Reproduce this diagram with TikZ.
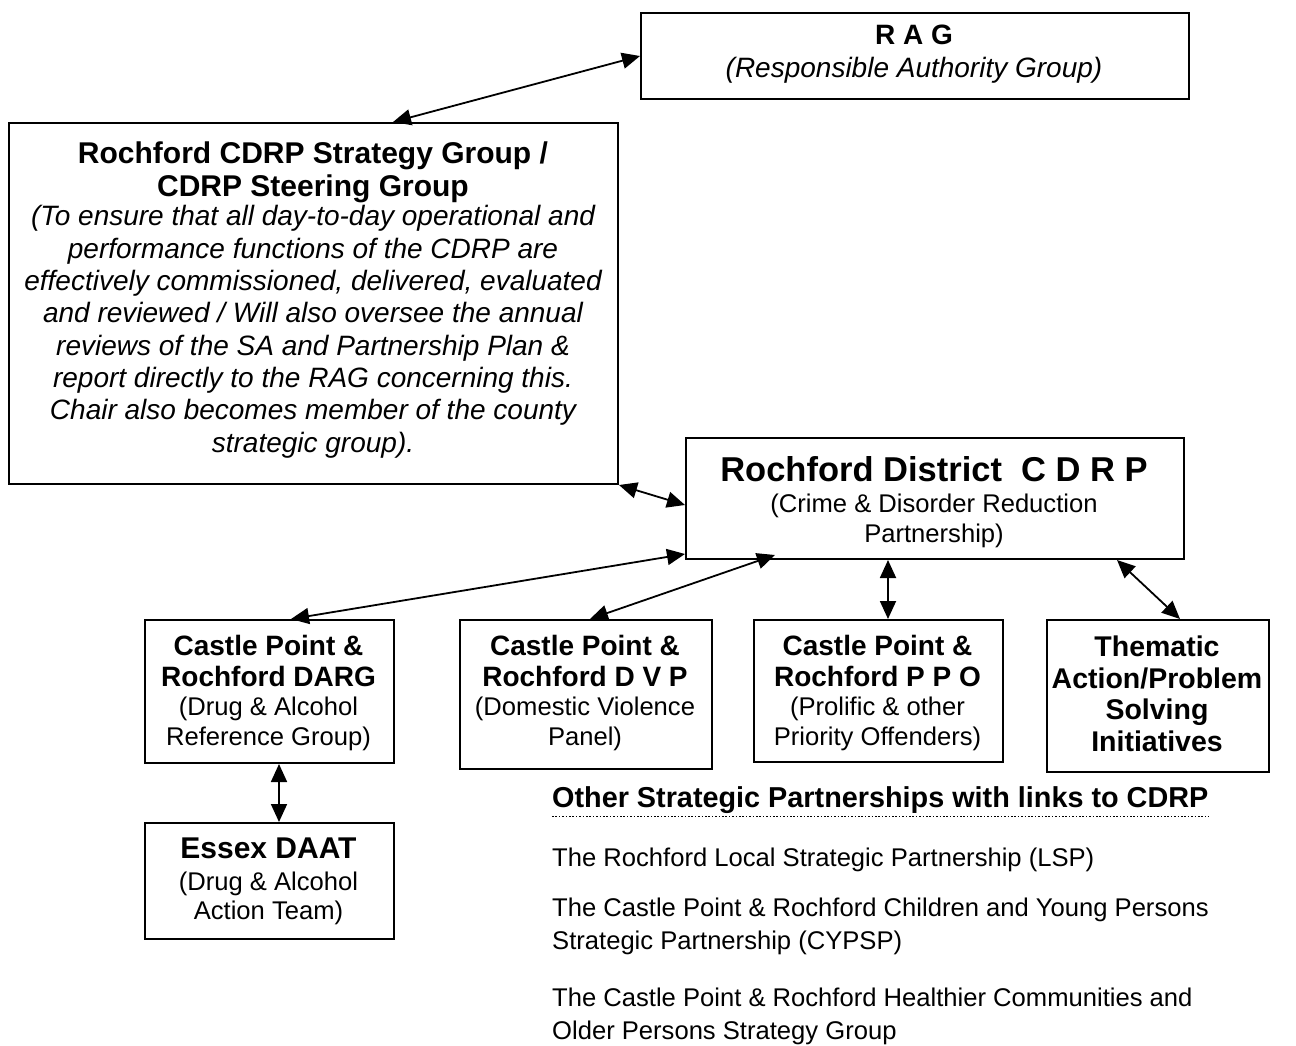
\documentclass[tikz,border=0pt]{standalone}
\usepackage{fontspec}
\setmainfont{Liberation Sans}
\usetikzlibrary{arrows.meta}
\newcommand\szBig{\fontsize{34.5}{39}\selectfont}
\newcommand\szMain{\fontsize{28}{32.3}\selectfont}
\newcommand\szSub{\fontsize{25.6}{29.8}\selectfont}
\begin{document}
\begin{tikzpicture}[x=1pt,y=-1pt,
  box/.style={draw, line width=2pt, anchor=north west, inner sep=0pt},
  link/.style={line width=1.8pt, {Triangle[length=18pt,width=16pt]}-{Triangle[length=18pt,width=16pt]}},
  txt/.style={anchor=north, align=center, inner sep=0pt},
  ltxt/.style={anchor=north west, align=left, inner sep=0pt}
]
\useasboundingbox (0,0) rectangle (1296,1046);

% boxes
\node[box, minimum width=548pt, minimum height=86pt] (rag) at (640,12) {};
\node[box, minimum width=609pt, minimum height=361pt] (strat) at (8,122) {};
\node[box, minimum width=498pt, minimum height=121pt] (cdrp) at (685,437) {};
\node[box, minimum width=249pt, minimum height=143pt] (darg) at (144,619) {};
\node[box, minimum width=252pt, minimum height=149pt] (dvp) at (459,619) {};
\node[box, minimum width=249pt, minimum height=142pt] (ppo) at (753,619) {};
\node[box, minimum width=222pt, minimum height=152pt] (them) at (1046,619) {};
\node[box, minimum width=249pt, minimum height=116pt] (daat) at (144,822) {};

% texts
\node[txt, font=\fontsize{28}{33}\selectfont] (ragt) at (914,24.5)
  {\textbf{R A G}\\\textit{(Responsible Authority Group)}};
\node[txt, font=\fontsize{30}{33}\selectfont\bfseries] (stratt) at (313,141.5)
  {Rochford CDRP Strategy Group /\\CDRP Steering Group};
\node[txt, font=\szMain\itshape] (strats) at (313,205.5)
  {(To ensure that all day-to-day operational and\\
   performance functions of the CDRP are\\
   effectively commissioned, delivered, evaluated\\
   and reviewed / Will also oversee the annual\\
   reviews of the SA and Partnership Plan \&\\
   report directly to the RAG concerning this.\\
   Chair also becomes member of the county\\
   strategic group).};
\node[txt, font=\szBig\bfseries] (cdrpt) at (934,456.5) {Rochford District\ \ C D R P};
\node[txt, font=\szSub] (cdrps) at (934,494) {(Crime \& Disorder Reduction\\Partnership)};

\node[txt, font=\fontsize{28}{31}\selectfont\bfseries] (dargt) at (268.5,635.5) {Castle Point \&\\Rochford DARG};
\node[txt, font=\szSub] (dargs) at (268.5,697) {(Drug \& Alcohol\\Reference Group)};

\node[txt, font=\fontsize{28}{31}\selectfont\bfseries] (dvpt) at (585,635.5) {Castle Point \&\\Rochford D V P};
\node[txt, font=\szSub] (dvps) at (585,697) {(Domestic Violence\\Panel)};

\node[txt, font=\fontsize{28}{31}\selectfont\bfseries] (ppot) at (877.5,635.5) {Castle Point \&\\Rochford P P O};
\node[txt, font=\szSub] (ppos) at (877.5,697) {(Prolific \& other\\Priority Offenders)};

\node[txt, font=\fontsize{28.5}{31.7}\selectfont\bfseries] (themt) at (1157,635.5) {Thematic\\Action/Problem\\Solving\\Initiatives};

\node[txt, font=\fontsize{30}{34}\selectfont\bfseries] (daatt) at (268.5,837.5) {Essex DAAT};
\node[txt, font=\fontsize{25.6}{28.5}\selectfont] (daats) at (268.5,872) {(Drug \& Alcohol\\Action Team)};

\node[ltxt, font=\fontsize{28.8}{33}\selectfont\bfseries] (other) at (552,786) {Other Strategic Partnerships with links to CDRP};
\draw[line width=1.6pt, dash pattern=on 1.6pt off 1.8pt] ([yshift=-3pt]other.south west) -- ([yshift=-3pt]other.south east);

\node[ltxt, font=\fontsize{25.6}{33}\selectfont] (p1) at (552,847.5) {The Rochford Local Strategic Partnership (LSP)};
\node[ltxt, font=\fontsize{25.6}{33}\selectfont] (p2) at (552,897.5) {The Castle Point \& Rochford Children and Young Persons\\Strategic Partnership (CYPSP)};
\node[ltxt, font=\fontsize{25.6}{33}\selectfont] (p3) at (552,987.5) {The Castle Point \& Rochford Healthier Communities and\\Older Persons Strategy Group};

% connectors
\draw[link] (rag.west) -- ([xshift=385pt]strat.north west);
\draw[link] (strat.south east) -- ([yshift=-68pt]cdrp.north west);
\draw[link] ([xshift=147pt]darg.north west) -- ([yshift=6pt]cdrp.south west);
\draw[link] ([xshift=131pt]dvp.north west) -- ([xshift=90pt,yshift=5pt]cdrp.south west);
\draw[link] ([xshift=203pt]cdrp.south west) -- ([xshift=135pt]ppo.north west);
\draw[link] ([xshift=-68pt]cdrp.south east) -- ([xshift=134pt]them.north west);
\draw[link] ([xshift=135pt]darg.south west) -- ([xshift=135pt]daat.north west);
\end{tikzpicture}
\end{document}
